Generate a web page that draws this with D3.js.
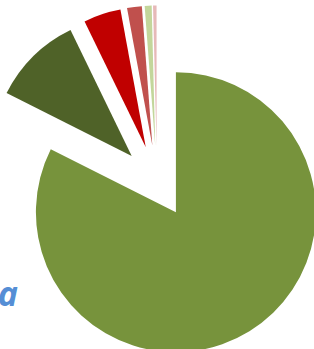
<!DOCTYPE html>
<html>
<head>
<meta charset="utf-8">
<script src="https://cdn.jsdelivr.net/npm/d3@7"></script>
<style>
  body { margin: 0; background: #fff; }
  svg { display: block; }
</style>
</head>
<body>
<script>
var width = 314,
    height = 349;

// slice values (percent), clockwise from 12 o'clock
var categories = ["A", "B", "C", "D", "E", "F"];
var values = [82.4, 10.4, 4.3, 1.7, 0.8, 0.4];
var colors = ["#77933c", "#4f6228", "#c00000", "#c0504d", "#c3d69b", "#e6b9b8"];

var cx = 157, cy = 181.5, radius = 140, explode = 36;

var svg = d3.select("body").append("svg")
    .attr("width", width)
    .attr("height", height);

var pie = d3.pie().sort(null).value(function(d) { return d; });
var arc = d3.arc().innerRadius(0).outerRadius(radius);

var g = svg.append("g").attr("transform", "translate(" + cx + "," + cy + ")");

g.selectAll("path")
  .data(pie(values))
  .enter().append("path")
    .attr("d", arc)
    .attr("fill", function(d, i) { return colors[i]; })
    .attr("transform", function(d) {
      var a = (d.startAngle + d.endAngle) / 2;
      return "translate(" + (explode * Math.sin(a)) + "," + (-explode * Math.cos(a)) + ")";
    });

// partly visible text at the left edge
svg.append("text")
  .attr("x", 18)
  .attr("y", 306)
  .attr("text-anchor", "end")
  .attr("font-family", "Open Sans, Noto Sans, sans-serif")
  .attr("font-size", 34)
  .attr("font-weight", "bold")
  .attr("font-style", "italic")
  .attr("fill", "#558ed5")
  .text("a");
</script>
</body>
</html>
